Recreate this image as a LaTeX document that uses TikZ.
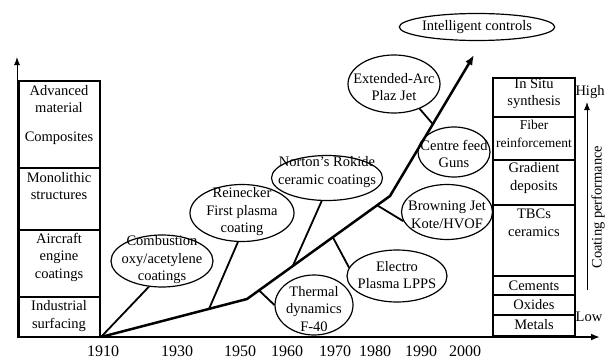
\documentclass[tikz,border=0pt]{standalone}
\usepackage{fontspec}
\setmainfont{Liberation Serif}
\usetikzlibrary{arrows.meta, positioning, calc, shapes.geometric}

\begin{document}
\begin{tikzpicture}[x=1pt, y=-1pt, every node/.style={font=\fontsize{14.5}{17.5}\selectfont, align=center},
    bubble/.style={draw, ellipse, line width=1.2pt, inner sep=0pt},
    branch/.style={line width=1.8pt},
    column/.style={line width=2.5pt},
    divider/.style={line width=1.2pt},
    year/.style={font=\fontsize{16}{18}\selectfont}]
    \useasboundingbox (0,0) rectangle (611,359);

    % Axes
    \coordinate (ax) at (17,337);
    \coordinate (ytop) at (17,57);
    \coordinate (xend) at (600,337);
    \draw[line width=1pt, -{Latex[length=8pt,width=6pt]}] (ax) -- (ytop);
    \draw[line width=2pt, -{Latex[length=9pt,width=7pt]}] (ax) -- (xend);

    % Applications (left)
    \draw[column] (19,81) rectangle (100,337);
    \foreach \yy in {168,230,297} {
        \draw[divider] (19,\yy) -- (100,\yy);
    }
    \node (adv) at (59,99) {Advanced\\material};
    \node (comp) at (59,138) {Composites};
    \node (mono) at (59,186) {Monolithic\\structures};
    \node (air) at (59,257) {Aircraft\\engine\\coatings};
    \node (ind) at (59,316) {Industrial\\surfacing};

    % Materials (right)
    \draw[column] (493,78) rectangle (575,336);
    \foreach \yy in {117,160,205,276,295,315} {
        \draw[divider] (493,\yy) -- (575,\yy);
    }
    \node (situ) at (534,94) {In Situ\\synthesis};
    \node[font=\fontsize{13.5}{17.5}\selectfont] (fib) at (534,134) {Fiber\\reinforcement};
    \node (grad) at (534,178) {Gradient\\deposits};
    \node (tbc) at (534,223) {TBCs\\ceramics};
    \node (cem) at (534,286) {Cements};
    \node (oxi) at (534,305) {Oxides};
    \node (met) at (534,325) {Metals};

    % Coating performance
    \coordinate (plow) at (587,290);
    \coordinate (phigh) at (587,102);
    \draw[line width=1pt, -{Latex[length=8pt,width=6pt]}] (plow) -- (phigh);
    \node (high) at (590,92) {High};
    \node (low) at (589,317) {Low};
    \node[rotate=90] (perf) at (598,207) {Coating performance};

    % Years
    \foreach \yr/\xp in {1910/103, 1930/177, 1950/240, 1960/287, 1970/335, 1980/375, 1990/421, 2000/465} {
        \node[year] (y\yr) at (\xp,351) {\yr};
    }

    % Processes
    \node[bubble, minimum width=102, minimum height=52] (comb) at (162,261) {};
    \node (combtxt) at (162,260) {Combustion\\oxy/acetylene\\coatings};
    \node[bubble, minimum width=104, minimum height=57] (rein) at (242,213) {};
    \node (reintxt) at (242,212) {Reinecker\\First plasma\\coating};
    \node[bubble, minimum width=111, minimum height=45] (nort) at (327,178) {};
    \node (norttxt) at (327,172) {Norton’s Rokide\\ceramic coatings};
    \node[bubble, minimum width=78, minimum height=60] (therm) at (314,305) {};
    \node (thermtxt) at (314,309) {Thermal\\dynamics\\F-40};
    \node[bubble, minimum width=100, minimum height=52] (elec) at (397,276) {};
    \node (electxt) at (397,275) {Electro\\Plasma LPPS};
    \node[bubble, minimum width=91, minimum height=55] (brow) at (447,212) {};
    \node (browtxt) at (447,215) {Browning Jet\\Kote/HVOF};
    \node[bubble, minimum width=72, minimum height=50] (cent) at (454,152) {};
    \node (centtxt) at (454,154) {Centre feed\\Guns};
    \node[bubble, minimum width=92, minimum height=58] (ext) at (394,84) {};
    \node (exttxt) at (394,87) {Extended-Arc\\Plaz Jet};
    \node[bubble, minimum width=139, minimum height=27] (intel) at (477,27) {Intelligent controls};

    % Main line
    \coordinate (o) at (101,337);
    \coordinate (b1) at (247,299);
    \coordinate (b2) at (390,196);
    \coordinate (tip) at (474,55);
    \draw[line width=2.5pt, -{Latex[length=10pt,width=8pt]}] (o) -- (b1) -- (b2) -- (tip);

    % Branches
    \draw[branch] (o) -- (comb.243);
    \draw[branch] ($(o)!0.74!(b1)$) -- (rein.262);
    \draw[branch] ($(b1)!0.084!(b2)$) -- (therm.west);
    \draw[branch] ($(b1)!0.32!(b2)$) -- (nort.257);
    \draw[branch] ($(b1)!0.60!(b2)$) -- (elec.170);
    \draw[branch] ($(b1)!0.91!(b2)$) -- (brow.192);
    \draw[branch] ($(b2)!0.51!(tip)$) -- (ext.316);
\end{tikzpicture}
\end{document}
